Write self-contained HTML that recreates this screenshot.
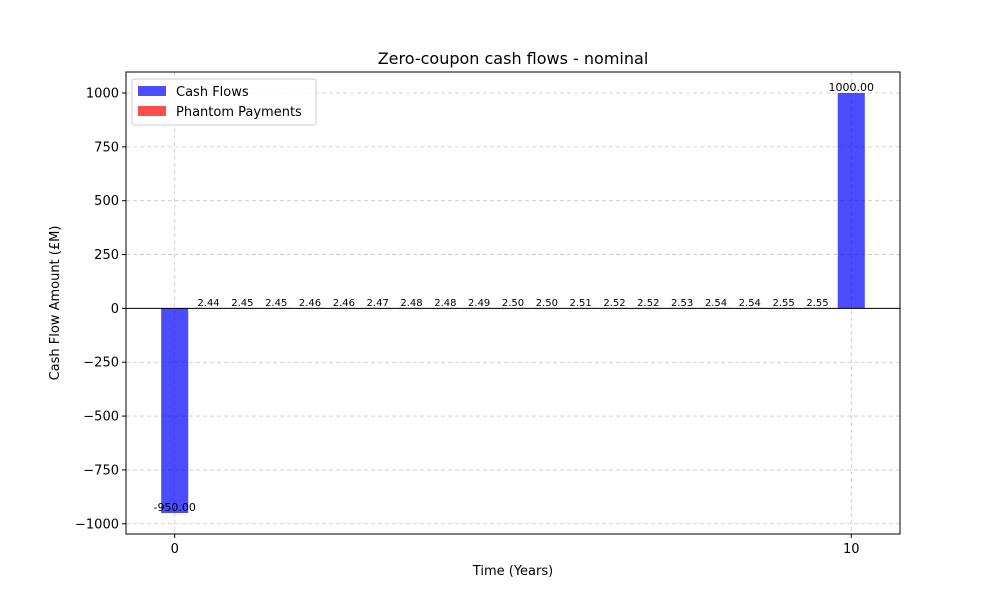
<!DOCTYPE html>
<html><head><meta charset="utf-8"><style>
body{margin:0;background:#fff;font-family:"Liberation Sans","DejaVu Sans",sans-serif;}
svg text{font-family:"DejaVu Sans","Liberation Sans",sans-serif;}
</style></head><body>
<svg id="chart" width="1000" height="600" xmlns="http://www.w3.org/2000/svg"></svg>
<script>
const cashTimes=[0,10];
const cashValues=[-950,1000];
const phantomTimes=[0.5,1,1.5,2,2.5,3,3.5,4,4.5,5,5.5,6,6.5,7,7.5,8,8.5,9,9.5];
const phantomValues=[2.44,2.45,2.45,2.46,2.46,2.47,2.48,2.48,2.49,2.50,2.50,2.51,2.52,2.52,2.53,2.54,2.54,2.55,2.55];
const yTicks=[-1000,-750,-500,-250,0,250,500,750,1000];
const xTicks=[0,10];
const L=126,R=900,T=72,B=534,xMin=-0.72,xMax=10.72,yMin=-1047.5,yMax=1097.5,bw=0.4;
const sx=v=>L+(v-xMin)/(xMax-xMin)*(R-L);
const sy=v=>B-(v-yMin)/(yMax-yMin)*(B-T);
const svg=document.getElementById('chart');
function mk(tag,attrs,txt){const e=document.createElementNS('http://www.w3.org/2000/svg',tag);for(const k in attrs)e.setAttribute(k,attrs[k]);if(txt!==undefined)e.textContent=txt;svg.appendChild(e);return e;}
// grid
yTicks.forEach(v=>{const g=mk('line',{x1:L,x2:R,y1:sy(v),y2:sy(v),stroke:'#b0b0b0','stroke-width':0.8,'stroke-dasharray':'4,3',opacity:0.7});

});
xTicks.forEach(v=>{const g=mk('line',{x1:sx(v),x2:sx(v),y1:T,y2:B,stroke:'#b0b0b0','stroke-width':0.8,'stroke-dasharray':'4,3',opacity:0.7});

});
// bars
cashTimes.forEach((t,i)=>{const v=cashValues[i];const y0=sy(0),y1=sy(v);
const r=mk('rect',{x:sx(t-bw/2),width:sx(t+bw/2)-sx(t-bw/2),y:Math.min(y0,y1),height:Math.abs(y1-y0),fill:'#0000ff','fill-opacity':0.7});


const tx=mk('text',{x:sx(t),y:y1-2,'font-size':11,'text-anchor':'middle'},v.toFixed(2));

});
phantomTimes.forEach((t,i)=>{const v=phantomValues[i];const y0=sy(0),y1=sy(v);
const r=mk('rect',{x:sx(t-bw/2),width:sx(t+bw/2)-sx(t-bw/2),y:y1,height:y0-y1,fill:'#ff0000','fill-opacity':0.7});


const tx=mk('text',{x:sx(t),y:y1-2,'font-size':10,'text-anchor':'middle'},v.toFixed(2));

});
// zero line
const z=mk('line',{x1:L,x2:R,y1:sy(0),y2:sy(0),stroke:'#000','stroke-width':1});


// frame
const f=mk('rect',{x:L,y:T,width:R-L,height:B-T,fill:'none',stroke:'#000','stroke-width':1});


// ticks
yTicks.forEach(v=>{const l=mk('line',{x1:L-4,x2:L,y1:sy(v),y2:sy(v),stroke:'#000'});


const t=mk('text',{x:L-7,y:sy(v)+4.5,'font-size':13,'text-anchor':'end'},String(v).replace('-','\u2212'));

});
xTicks.forEach(v=>{const l=mk('line',{x1:sx(v),x2:sx(v),y1:B,y2:B+4,stroke:'#000'});


const t=mk('text',{x:sx(v),y:B+19,'font-size':13,'text-anchor':'middle'},String(v));

});
</script>
<svg style="position:absolute;left:0;top:0" width="1000" height="600" xmlns="http://www.w3.org/2000/svg">
<text x="513" y="64" font-size="16" text-anchor="middle" font-family="DejaVu Sans, sans-serif">Zero-coupon cash flows - nominal</text>
<text x="513" y="575" font-size="13" text-anchor="middle" font-family="DejaVu Sans, sans-serif">Time (Years)</text>
<text x="59" y="303" font-size="13" text-anchor="middle" transform="rotate(-90 59 303)" font-family="DejaVu Sans, sans-serif">Cash Flow Amount (£M)</text>
<g>
<rect x="132" y="79" width="184" height="46" rx="3" fill="#fff" fill-opacity="0.8" stroke="#ccc"/>
<rect x="138" y="86" width="28" height="10" fill="#0000ff" fill-opacity="0.7"/>
<text x="176" y="96" font-size="13" font-family="DejaVu Sans, sans-serif">Cash Flows</text>
<rect x="138" y="106" width="28" height="10" fill="#ff0000" fill-opacity="0.7"/>
<text x="176" y="116" font-size="13" font-family="DejaVu Sans, sans-serif">Phantom Payments</text>
</g>
</svg>
</body></html>
